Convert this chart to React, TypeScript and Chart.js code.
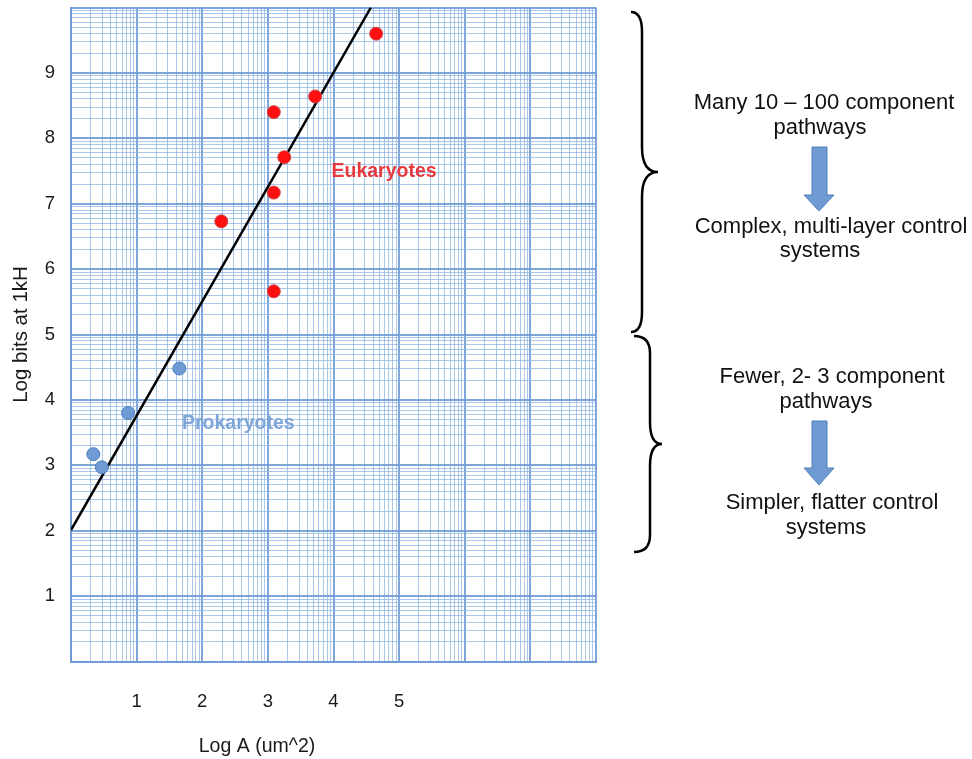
import React, { useEffect, useRef } from "react";
import { Chart, registerables } from "chart.js";

Chart.register(...registerables);

// ---- data ----
const prokaryoteX = [0.34, 0.47, 0.87, 1.65];
const prokaryoteY = [3.17, 2.97, 3.8, 4.48];
const eukaryoteX = [4.65, 3.72, 3.09, 3.25, 3.09, 2.29, 3.09];
const eukaryoteY = [9.6, 8.64, 8.4, 7.71, 7.17, 6.73, 5.66];
const fitX = [0, 4.57];
const fitY = [2.01, 10];
const xTickLabels = [1, 2, 3, 4, 5];
const yTickLabels = [1, 2, 3, 4, 5, 6, 7, 8, 9];
const xDecades = 8;
const yDecades = 10;
const groupLabels = [
  { text: "Eukaryotes", x: 4.77, y: 7.49, color: "#e63a3f" },
  { text: "Prokaryotes", x: 2.55, y: 3.64, color: "#7fa5d8" },
];

const FONT = "'Liberation Sans', Arial, sans-serif";

function logPaperTicks(decades: number): number[] {
  const out: number[] = [];
  for (let d = 0; d < decades; d++) {
    for (let k = 1; k < 10; k++) out.push(d + Math.log10(k));
  }
  out.push(decades);
  return out;
}
const isMajor = (v: number) => Math.abs(v - Math.round(v)) < 1e-6;

const majorColor = "rgba(112,156,214,0.9)";
const minorColor = "rgba(138,177,226,0.72)";

function drawBrace(
  ctx: CanvasRenderingContext2D,
  xL: number, yTop: number, yBot: number, xS: number, xTip: number, yMid: number, rEnd: number, rTip: number
) {
  ctx.beginPath();
  ctx.moveTo(xL, yTop);
  ctx.quadraticCurveTo(xS, yTop, xS, yTop + rEnd);
  ctx.lineTo(xS, yMid - rTip);
  ctx.quadraticCurveTo(xS, yMid, xTip, yMid);
  ctx.quadraticCurveTo(xS, yMid, xS, yMid + rTip);
  ctx.lineTo(xS, yBot - rEnd);
  ctx.quadraticCurveTo(xS, yBot, xL, yBot);
  ctx.stroke();
}

function drawArrow(ctx: CanvasRenderingContext2D, x0: number, x1: number, top: number, headL: number, headR: number, headTop: number, tip: number) {
  ctx.beginPath();
  ctx.moveTo(x0, top);
  ctx.lineTo(x1, top);
  ctx.lineTo(x1, headTop);
  ctx.lineTo(headR, headTop);
  ctx.lineTo((headL + headR) / 2, tip);
  ctx.lineTo(headL, headTop);
  ctx.lineTo(x0, headTop);
  ctx.closePath();
  ctx.fillStyle = "#6f9bd2";
  ctx.fill();
  ctx.strokeStyle = "#4f7fbf";
  ctx.lineWidth = 1;
  ctx.stroke();
}

const sideTexts = [
  { t: "Many 10 \u2013 100 component", x: 824, y: 103 },
  { t: "pathways", x: 820, y: 128 },
  { t: "Complex, multi-layer control", x: 831, y: 227 },
  { t: "systems", x: 820, y: 251 },
  { t: "Fewer, 2- 3 component", x: 832, y: 377 },
  { t: "pathways", x: 826, y: 402 },
  { t: "Simpler, flatter control", x: 832, y: 503 },
  { t: "systems", x: 826, y: 528 },
];

const annotationPlugin = {
  id: "annotations",
  afterDatasetsDraw(chart: any) {
    const ctx: CanvasRenderingContext2D = chart.ctx;
    const xs = chart.scales.x;
    const ys = chart.scales.y;
    ctx.save();
    ctx.font = `bold 19.5px ${FONT}`;
    ctx.textAlign = "center";
    ctx.textBaseline = "middle";
    for (const g of groupLabels) {
      ctx.fillStyle = g.color;
      ctx.fillText(g.text, xs.getPixelForValue(g.x), ys.getPixelForValue(g.y));
    }
    ctx.restore();
  },
  afterDraw(chart: any) {
    const ctx: CanvasRenderingContext2D = chart.ctx;
    ctx.save();
    ctx.font = `19.5px ${FONT}`;
    ctx.fillStyle = "#1a1a1a";
    ctx.textAlign = "center";
    ctx.textBaseline = "middle";
    ctx.fillText("Log A (um^2)", 257, 747);

    ctx.strokeStyle = "#000";
    ctx.lineWidth = 2.5;
    drawBrace(ctx, 631, 12, 332, 642, 658, 172, 20, 25);
    drawBrace(ctx, 634, 336, 552, 650, 662, 444, 17, 22);

    drawArrow(ctx, 812, 827, 147, 804, 834, 195, 211);
    drawArrow(ctx, 812, 827, 421, 804, 834, 468, 485);

    ctx.font = `22px ${FONT}`;
    ctx.fillStyle = "#111";
    ctx.textAlign = "center";
    ctx.textBaseline = "middle";
    for (const s of sideTexts) ctx.fillText(s.t, s.x, s.y);
    ctx.restore();
  },
};

export default function App() {
  const ref = useRef<HTMLCanvasElement>(null);
  useEffect(() => {
    if (!ref.current) return;
    const xTicks = logPaperTicks(xDecades);
    const yTicks = logPaperTicks(yDecades);
    const chart = new Chart(ref.current, {
      type: "scatter",
      data: {
        datasets: [
          {
            type: "line",
            label: "fit",
            data: fitX.map((x, i) => ({ x, y: fitY[i] })),
            borderColor: "#000",
            borderWidth: 2.5,
            pointRadius: 0,
            fill: false,
            order: 2,
          } as any,
          {
            label: "Eukaryotes",
            data: eukaryoteX.map((x, i) => ({ x, y: eukaryoteY[i] })),
            backgroundColor: "#ff1010",
            borderColor: "#c8474a",
            borderWidth: 1,
            pointRadius: 6.5,
            order: 1,
          },
          {
            label: "Prokaryotes",
            data: prokaryoteX.map((x, i) => ({ x, y: prokaryoteY[i] })),
            backgroundColor: "#6f9bd4",
            borderColor: "#4f7fbf",
            borderWidth: 1,
            pointRadius: 6.5,
            order: 1,
          },
        ],
      },
      options: {
        responsive: false,
        animation: false,
        devicePixelRatio: 1,
        layout: { padding: { left: 0, top: 7, right: 376, bottom: 0 } },
        plugins: { legend: { display: false }, tooltip: { enabled: false } },
        scales: {
          x: {
            type: "linear",
            min: 0,
            max: xDecades,
            afterBuildTicks: (s: any) => {
              s.ticks = xTicks.map((v) => ({ value: v }));
            },
            afterFit: (s: any) => {
              s.height = 97.5;
              s.paddingLeft = 0;
              s.paddingRight = 0;
            },
            ticks: {
              autoSkip: false,
              maxRotation: 0,
              padding: 29,
              color: "#1a1a1a",
              font: { family: FONT, size: 18.5 },
              callback: (v: any) => {
                const n = Number(v);
                return isMajor(n) && xTickLabels.includes(Math.round(n)) ? String(Math.round(n)) : "";
              },
            },
            grid: {
              drawTicks: false,
              color: (c: any) => (c.tick && isMajor(c.tick.value) ? majorColor : minorColor),
              lineWidth: (c: any) => (c.tick && isMajor(c.tick.value) ? 2 : 1),
            },
            border: { color: "#6f9bd4", width: 2 },
          },
          y: {
            type: "linear",
            min: 0,
            max: yDecades,
            afterBuildTicks: (s: any) => {
              s.ticks = yTicks.map((v) => ({ value: v }));
            },
            afterFit: (s: any) => {
              s.width = 71;
              s.paddingTop = 0;
              s.paddingBottom = 0;
            },
            ticks: {
              autoSkip: false,
              padding: 16,
              labelOffset: 0,
              color: "#1a1a1a",
              font: { family: FONT, size: 18.5 },
              callback: (v: any) => {
                const n = Number(v);
                return isMajor(n) && yTickLabels.includes(Math.round(n)) ? String(Math.round(n)) : "";
              },
            },
            grid: {
              drawTicks: false,
              color: (c: any) => (c.tick && isMajor(c.tick.value) ? majorColor : minorColor),
              lineWidth: (c: any) => (c.tick && isMajor(c.tick.value) ? 2 : 1),
            },
            border: { color: "#6f9bd4", width: 2 },
            title: {
              display: true,
              text: "Log bits at 1kH",
              color: "#1a1a1a",
              font: { family: FONT, size: 20.5 },
              padding: { top: 9, bottom: 0 },
            },
          },
        },
      },
      plugins: [annotationPlugin],
    });
    return () => chart.destroy();
  }, []);

  return (
    <div style={{ position: "absolute", left: 0, top: 0, width: 972, height: 759, background: "#fff" }}>
      <canvas ref={ref} width={972} height={759} style={{ display: "block", width: 972, height: 759 }} />
    </div>
  );
}
